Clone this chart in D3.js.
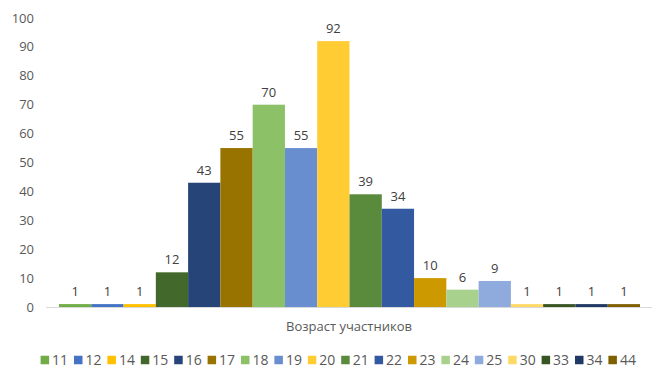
<!DOCTYPE html>
<html lang="ru">
<head>
<meta charset="UTF-8" />
<title>Возраст участников</title>
<style>
  body { margin: 0; background: #fff; }
  text { font-family: "Open Sans", "Noto Sans", sans-serif; }
</style>
</head>
<body>
<svg id="chart" width="667" height="386"></svg>
<script src="https://d3js.org/d3.v7.min.js"></script>
<script>
// возраст участников и число участников
const ages = ['11', '12', '14', '15', '16', '17', '18', '19', '20', '21', '22', '23', '24', '25', '30', '33', '34', '44'];
const counts = [1, 1, 1, 12, 43, 55, 70, 55, 92, 39, 34, 10, 6, 9, 1, 1, 1, 1];
const colors = ['#70AD47', '#4472C4', '#FFC000', '#43682B', '#264478', '#997300',
                '#8CC168', '#698ED0', '#FFCD33', '#5A8A3B', '#335AA1', '#CC9A00',
                '#A9D18E', '#8FAADC', '#FFD966', '#375623', '#203864', '#7F6000'];
const yTicks = [0, 10, 20, 30, 40, 50, 60, 70, 80, 90, 100];
const axisTitle = 'Возраст участников';

const svg = d3.select('#chart');

const x = d3.scaleBand().domain(ages).range([59, 640]).paddingInner(0);
const y = d3.scaleLinear().domain([0, 100]).range([307, 18]);
const color = d3.scaleOrdinal().domain(ages).range(colors);

// подписи оси Y
svg.append('g')
  .selectAll('text')
  .data(yTicks)
  .join('text')
  .attr('x', 34)
  .attr('y', d => y(d))
  .attr('dy', '0.35em')
  .attr('text-anchor', 'end')
  .attr('font-size', 13)
  .attr('fill', '#595959')
  .text(d => d);

// столбцы
svg.append('g')
  .selectAll('rect')
  .data(ages)
  .join('rect')
  .attr('x', d => x(d))
  .attr('width', x.bandwidth())
  .attr('y', (d, i) => y(counts[i]))
  .attr('height', (d, i) => y(0) - y(counts[i]))
  .attr('fill', d => color(d));

// ось X
svg.append('line')
  .attr('x1', 46).attr('x2', 652)
  .attr('y1', y(0) + 0.5).attr('y2', y(0) + 0.5)
  .attr('stroke', '#d9d9d9')
  .attr('stroke-width', 1);

// подписи значений
svg.append('g')
  .selectAll('text')
  .data(ages)
  .join('text')
  .attr('x', d => x(d) + x.bandwidth() / 2)
  .attr('y', (d, i) => y(counts[i]) - 8)
  .attr('text-anchor', 'middle')
  .attr('font-size', 13)
  .attr('fill', '#404040')
  .text((d, i) => counts[i]);

// название оси
svg.append('text')
  .attr('x', 349)
  .attr('y', 331)
  .attr('text-anchor', 'middle')
  .attr('font-size', 13)
  .attr('fill', '#595959')
  .text(axisTitle);

// легенда
const legend = svg.append('g')
  .selectAll('g')
  .data(ages)
  .join('g')
  .attr('transform', (d, i) => `translate(${40.6 + i * 33.4},360)`);

legend.append('rect')
  .attr('x', 0).attr('y', -4.25)
  .attr('width', 8.5).attr('height', 8.5)
  .attr('fill', d => color(d));

legend.append('text')
  .attr('x', 11.5)
  .attr('dy', '0.35em')
  .attr('font-size', 14)
  .attr('fill', '#595959')
  .text(d => d);
</script>
</body>
</html>
